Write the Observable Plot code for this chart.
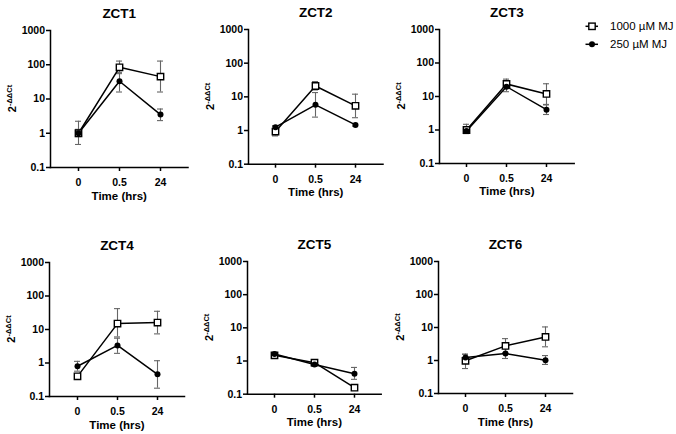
<!DOCTYPE html>
<html><head><meta charset="utf-8">
<script src="https://cdn.jsdelivr.net/npm/d3@7"></script>
<script src="https://cdn.jsdelivr.net/npm/@observablehq/plot@0.6"></script>
<style>
html,body{margin:0;padding:0;background:#fff;}
#root{position:relative;width:676px;height:434px;overflow:hidden;font-family:"Liberation Sans",Arial,sans-serif;}
#root svg{position:absolute;overflow:visible;}
</style></head><body><div id="root"></div>
<script>
// ---- data ----
const panels = ["ZCT1", "ZCT2", "ZCT3", "ZCT4", "ZCT5", "ZCT6"];
const times = ["0", "0.5", "24"];
const seriesNames = ["1000 \u00b5M MJ", "250 \u00b5M MJ"];
const yTicks = [0.1, 1, 10, 100, 1000];
const yTickLabels = ["0.1", "1", "10", "100", "1000"];

// 1000 µM MJ (open squares): mean, lower, upper
const high   = [[1.0, 84, 45], [0.93, 21, 5.4], [1.0, 23.6, 11.9], [0.40, 15, 16.1], [1.48, 0.89, 0.157], [0.98, 2.77, 5.17]];
const highLo = [[0.47, 60, 16], [0.69, 16, 2.4], [0.78, 19, 5.6], [0.33, 6, 7.4], [1.3, 0.78, 0.13], [0.57, 1.7, 2.6]];
const highHi = [[2.24, 128, 128], [1.3, 28.5, 12], [1.48, 33, 24], [0.48, 42, 35], [1.7, 1.0, 0.19], [1.55, 4.6, 10.4]];
// 250 µM MJ (filled circles)
const low   = [[1.0, 33, 3.5], [1.26, 5.8, 1.47], [0.93, 19.7, 4.05], [0.80, 3.35, 0.46], [1.63, 0.78, 0.415], [1.23, 1.63, 1.02]];
const lowLo = [[0.8, 16, 2.34], [1.1, 2.5, 1.35], [0.8, 13.9, 2.9], [0.57, 1.94, 0.177], [1.45, 0.7, 0.28], [1.0, 1.15, 0.76]];
const lowHi = [[1.3, 55, 5.1], [1.4, 13.4, 1.6], [1.1, 25, 5.8], [1.12, 5.5, 1.17], [1.8, 0.86, 0.64], [1.55, 2.3, 1.41]];

// ---- layout (page pixel geometry of each panel frame) ----
const layout = [
  {ax: 49.5, top: 30, bottom: 167, w: 137.5},
  {ax: 247.7, top: 29.3, bottom: 164, w: 134.5},
  {ax: 439, top: 29.3, bottom: 163.3, w: 134.7},
  {ax: 49, top: 262, bottom: 396, w: 135},
  {ax: 247.3, top: 261.3, bottom: 394, w: 133.7},
  {ax: 438, top: 261.3, bottom: 393.3, w: 134}
];
const mL = 50, mT = 30, mR = 12, mB = 42;
const FONT = '"Liberation Sans", Arial, sans-serif';
const root = document.getElementById("root");

panels.forEach((name, i) => {
  const g = layout[i];
  const h = g.bottom - g.top;
  const hiRows = times.map((t, j) => ({t, v: high[i][j], lo: highLo[i][j], hi: highHi[i][j]}));
  const loRows = times.map((t, j) => ({t, v: low[i][j], lo: lowLo[i][j], hi: lowHi[i][j]}));
  const rows = hiRows.concat(loRows);
  const capOpts = {x1: "t", x2: "t", stroke: "#666", strokeWidth: 1.1, insetLeft: -3, insetRight: -3};
  const chart = Plot.plot({
    width: mL + g.w + mR,
    height: mT + h + mB,
    marginLeft: mL, marginTop: mT, marginRight: mR, marginBottom: mB,
    style: {fontFamily: FONT, background: "transparent", color: "#000"},
    x: {type: "point", domain: times, padding: 0.667, label: null},
    y: {type: "log", domain: [0.1, 1000], label: null},
    marks: [
      Plot.ruleX(rows, {x: "t", y1: "lo", y2: "hi", stroke: "#666", strokeWidth: 1.1}),
      Plot.ruleY(rows, {y: "lo", ...capOpts}),
      Plot.ruleY(rows, {y: "hi", ...capOpts}),
      Plot.line(loRows, {x: "t", y: "v", stroke: "#000", strokeWidth: 1.5}),
      Plot.line(hiRows, {x: "t", y: "v", stroke: "#000", strokeWidth: 1.5}),
      Plot.dot(hiRows, {x: "t", y: "v", symbol: "square", r: 3.6, fill: "#fff", stroke: "#000", strokeWidth: 1.4}),
      Plot.dot(loRows, {x: "t", y: "v", r: 3, fill: "#000", stroke: "none"}),
      Plot.frame({anchor: "left", strokeWidth: 1.5}),
      Plot.frame({anchor: "bottom", strokeWidth: 1.5}),
      Plot.axisY({ticks: yTicks, tickFormat: d => yTickLabels[yTicks.indexOf(d)], tickSize: 4, tickPadding: 1.5,
                  fontSize: 10.5, fontWeight: "bold", label: null, strokeWidth: 1.5}),
      Plot.axisX({tickSize: 4, tickPadding: 7, fontSize: 10.5, fontWeight: "bold", label: null, strokeWidth: 1.5}),
      Plot.text([name], {frameAnchor: "top", dy: -22, fontSize: 13.5, fontWeight: "bold"}),
      Plot.text(["Time (hrs)"], {frameAnchor: "bottom", dy: 32, fontSize: 11.5, fontWeight: "bold"})
    ]
  });
  chart.style.position = "absolute";
  chart.style.left = (g.ax - mL) + "px";
  chart.style.top = (g.top - mT) + "px";
  // y-axis label with superscript
  const t = d3.select(chart).append("text")
    .attr("transform", `translate(${mL - 34.5},${mT + h / 2}) rotate(-90)`)
    .attr("text-anchor", "middle")
    .attr("fill", "#000")
    .style("font-family", FONT)
    .style("font-weight", "bold")
    .style("font-size", "11px");
  t.append("tspan").text("2");
  t.append("tspan").attr("dy", "-0.45em").style("font-size", "7.5px").text("-\u0394\u0394Ct");
  root.appendChild(chart);
});

// ---- legend ----
const leg = d3.select(root).append("svg")
  .attr("width", 120).attr("height", 50)
  .style("left", "570px").style("top", "10px");
const legItems = [{name: seriesNames[0], y: 16.3, sym: "square"}, {name: seriesNames[1], y: 34.3, sym: "circle"}];
legItems.forEach(it => {
  leg.append("line").attr("x1", 15.5).attr("x2", 28).attr("y1", it.y).attr("y2", it.y)
    .attr("stroke", "#000").attr("stroke-width", 1.5);
  if (it.sym === "square") {
    leg.append("rect").attr("x", 22 - 3.2).attr("y", it.y - 3.2).attr("width", 6.4).attr("height", 6.4)
      .attr("fill", "#fff").attr("stroke", "#000").attr("stroke-width", 1.4);
  } else {
    leg.append("circle").attr("cx", 22).attr("cy", it.y).attr("r", 3).attr("fill", "#000");
  }
  leg.append("text").attr("x", 40).attr("y", it.y + 4).attr("fill", "#000")
    .style("font-family", FONT).style("font-size", "11.5px").text(it.name);
});
</script>
</body></html>
